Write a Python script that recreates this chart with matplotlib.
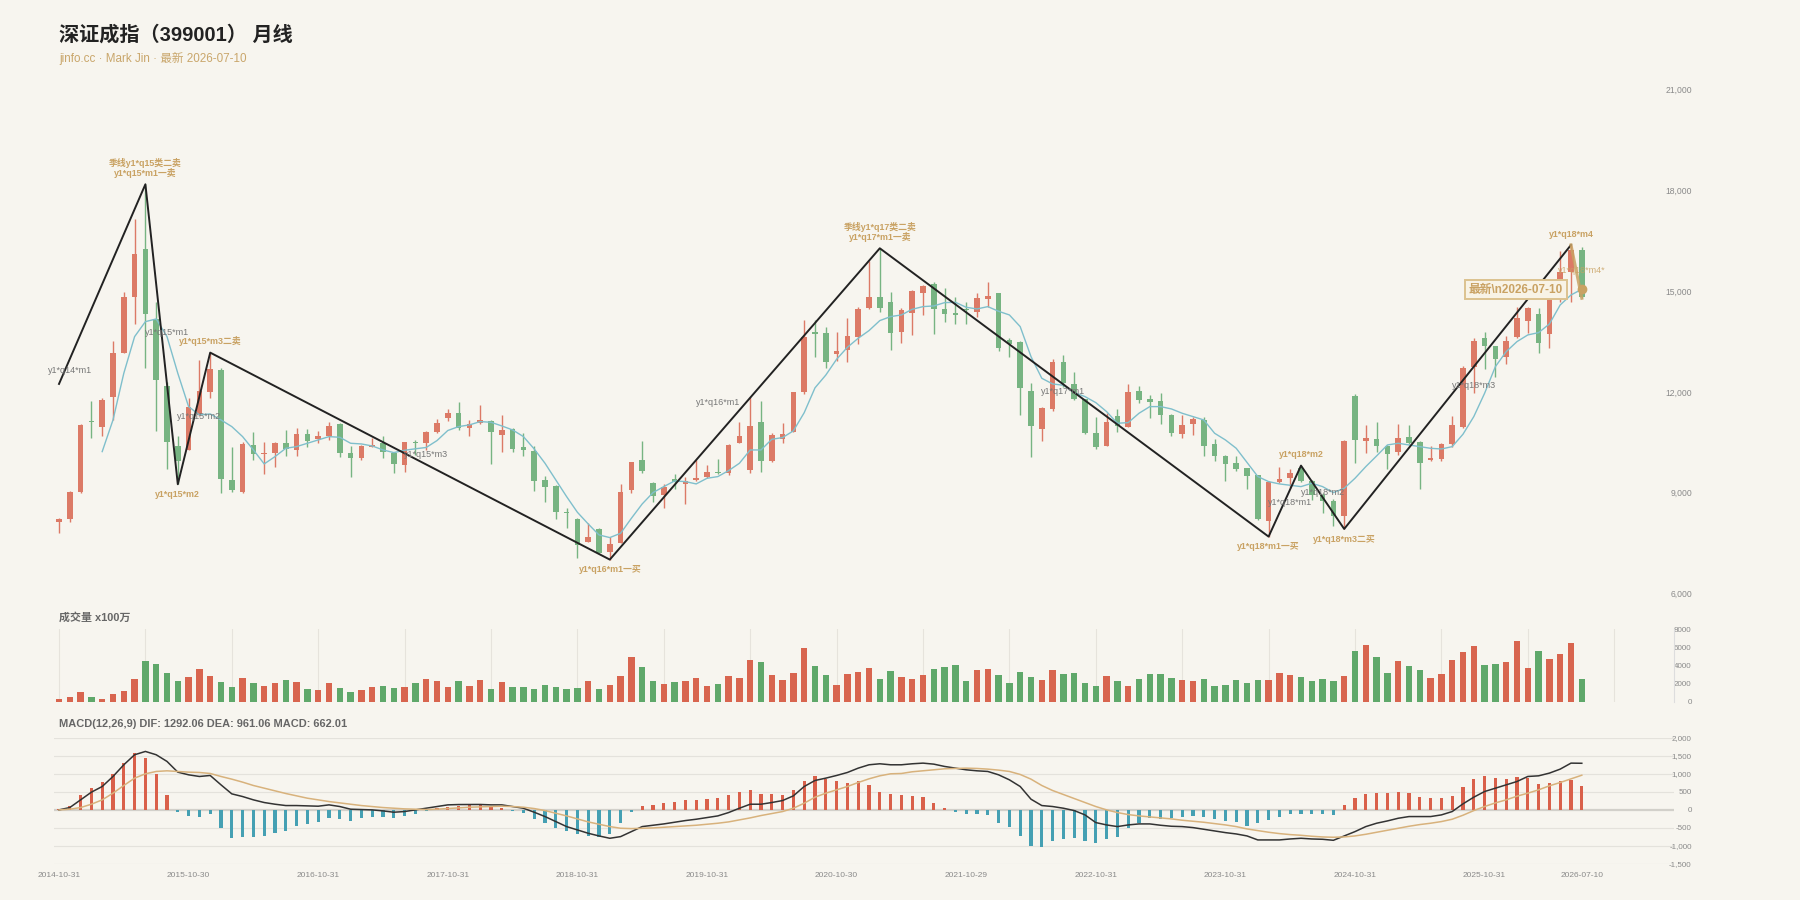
import numpy as np
import matplotlib.pyplot as plt
from matplotlib.ticker import FuncFormatter

plt.rcParams['font.family'] = ['Liberation Sans', 'Noto Sans CJK SC', 'DejaVu Sans']
plt.rcParams['axes.unicode_minus'] = False

# ---------------- data ----------------
tick_idx = [0, 12, 24, 36, 48, 60, 72, 84, 96, 108, 120, 132, 141]
tick_lab = ["2014-10-31", "2015-10-30", "2016-10-31", "2017-10-31", "2018-10-31",
            "2019-10-31", "2020-10-30", "2021-10-29", "2022-10-31", "2023-10-31",
            "2024-10-31", "2025-10-31", "2026-07-10"]

opens = [8120, 8220, 9012, 11135, 10946, 11859, 13168, 14835, 16253, 14170,
         12176, 10390, 10271, 11313, 12007, 12652, 9378, 9031, 10420, 10140,
         10172, 10490, 10271, 10757, 10589, 10698, 11035, 10192, 10043, 10370,
         10490, 10192, 9825, 10519, 10490, 10817, 11214, 11363, 10916, 11065,
         11144, 10718, 10886, 10361, 10252, 9369, 9210, 8436, 8228, 7544,
         7911, 7246, 7514, 9081, 9974, 9299, 8932, 9399, 9260, 9379,
         9458, 9617, 9577, 10490, 9676, 11105, 9944, 10599, 10817, 12008,
         13773, 13743, 13128, 13248, 13624, 14487, 14835, 14666, 13793, 14339,
         14954, 15202, 14458, 14339, 14468, 14388, 14765, 14934, 13545, 13496,
         12037, 10897, 11482, 12880, 12226, 11789, 10787, 10400, 11283, 10966,
         12027, 11779, 11740, 11303, 10738, 11045, 11164, 10440, 10093, 9894,
         9726, 9527, 8168, 9329, 9448, 9746, 9349, 8932, 8754, 8317,
         11880, 10549, 10599, 10391, 10222, 10648, 10520, 9974, 9994, 10440,
         10966, 12752, 13615, 13366, 13029, 13624, 14111, 14329, 13714, 15331,
         15579, 16224]
highs = [8260, 9040, 11040, 11730, 11809, 13515, 14983, 17136, 18178, 14666,
         12300, 10698, 11809, 12950, 13168, 12700, 10371, 10519, 10797, 10499,
         10499, 10866, 10936, 10896, 10837, 11095, 11065, 10390, 10420, 10638,
         10688, 10222, 10519, 10569, 10847, 11184, 11502, 11700, 11164, 11611,
         11164, 11313, 10936, 10767, 10390, 9498, 9230, 8555, 8238, 8109,
         7940, 7673, 9260, 9924, 10539, 9329, 9260, 9557, 9478, 9974,
         9825, 10000, 10440, 11095, 11839, 11730, 10767, 11075, 12008, 14140,
         14140, 13922, 13793, 14190, 14517, 15896, 16273, 14964, 14488, 15033,
         15182, 15281, 15083, 14815, 14666, 14934, 15281, 14954, 13615, 13525,
         12256, 11541, 12980, 13099, 12583, 11800, 11244, 11363, 11482, 12236,
         12186, 11908, 11958, 11333, 11313, 11264, 11264, 10589, 10122, 10093,
         9746, 9540, 9359, 9775, 9706, 9805, 9379, 8982, 8813, 10569,
         11950, 11000, 11115, 10420, 11045, 11015, 10549, 10400, 10470, 11293,
         12781, 13594, 13793, 13376, 13664, 14517, 14537, 14507, 15053, 16194,
         16372, 16303]
lows = [7790, 8140, 9000, 10640, 10698, 11164, 13148, 14021, 12722, 10837,
        9696, 9250, 10271, 11290, 11829, 8982, 9031, 9000, 9974, 9547,
        9775, 10093, 10093, 10370, 10490, 10569, 10073, 9477, 9974, 10350,
        10023, 9577, 9626, 10122, 10271, 10787, 11135, 10867, 10698, 11045,
        9855, 10222, 10222, 10093, 9051, 8724, 8218, 7940, 7067, 7524,
        7196, 7008, 7494, 9002, 9577, 8734, 8555, 9101, 8664, 9359,
        9448, 9557, 9527, 10470, 9577, 9627, 9904, 10490, 10797, 11938,
        13029, 12702, 12930, 12900, 13426, 14468, 14388, 13247, 13446, 13694,
        14289, 13724, 14091, 14021, 14011, 14240, 14537, 13228, 13049, 11313,
        10073, 10549, 11442, 12157, 11760, 10747, 10291, 10390, 10797, 10946,
        11660, 11214, 11035, 10698, 10639, 10718, 10093, 9954, 9359, 9656,
        9101, 8200, 7692, 9279, 9131, 9329, 8783, 8407, 8020, 7920,
        9875, 10192, 10222, 9696, 10123, 10450, 9111, 9944, 9954, 10370,
        10936, 11958, 12672, 12454, 12831, 13595, 13743, 13168, 13297, 14686,
        14686, 14785]
closes = [8220, 9012, 11015, 11100, 11759, 13148, 14815, 16095, 14319, 12355,
          10519, 9954, 11561, 12037, 12672, 9398, 9081, 10450, 10142, 10170,
          10470, 10311, 10747, 10539, 10698, 10995, 10172, 10043, 10390, 10420,
          10222, 9855, 10519, 10490, 10817, 11085, 11363, 10916, 11035, 11164,
          10807, 10867, 10301, 10281, 9359, 9160, 8436, 8387, 7444, 7673,
          7216, 7474, 9032, 9904, 9656, 8912, 9180, 9309, 9359, 9428,
          9627, 9577, 10420, 10688, 10986, 9944, 10728, 10748, 11998, 13644,
          13724, 12880, 13228, 13664, 14468, 14815, 14487, 13763, 14438, 15003,
          15162, 14458, 14319, 14289, 14438, 14785, 14854, 13317, 13426, 12107,
          10996, 11511, 12880, 12256, 11789, 10767, 10371, 11095, 10996, 11988,
          11760, 11710, 11313, 10767, 11016, 11184, 10391, 10093, 9855, 9706,
          9508, 8208, 9329, 9399, 9577, 9349, 8932, 8754, 8317, 10539,
          10569, 10619, 10400, 10143, 10619, 10490, 9894, 10043, 10450, 11016,
          12702, 13525, 13366, 12970, 13525, 14210, 14507, 13466, 15033, 15579,
          16224, 14835]

# moving-average line (starts at bar 4)
ma_start = 4
ma_line = [10222, 11164, 12553, 13644, 14090, 14170, 13644, 12553, 11561, 11313,
           11343, 11164, 10966, 10668, 10272, 9855, 10073, 10321, 10371, 10470,
           10569, 10668, 10648, 10470, 10450, 10390, 10272, 10192, 10262, 10306,
           10345, 10550, 10850, 10966, 11016, 11115, 11095, 10986, 10867, 10669,
           10301, 9875, 9379, 8883, 8416, 8069, 7742, 7663, 7791, 8238,
           8664, 9002, 9180, 9349, 9329, 9260, 9428, 9478, 9656, 9875,
           10271, 10271, 10589, 10640, 10840, 11380, 12120, 12500, 12970, 13327,
           13595, 13823, 14121, 14240, 14289, 14458, 14537, 14557, 14656, 14666,
           14517, 14468, 14537, 14398, 14289, 13942, 13049, 12404, 12236, 12196,
           11978, 11859, 11680, 11412, 11065, 11085, 11363, 11561, 11561, 11492,
           11363, 11264, 11164, 10768, 10569, 10321, 9900, 9480, 9329, 9260,
           9220, 9180, 9280, 9180, 9002, 9130, 9428, 9775, 10093, 10420,
           10470, 10420, 10370, 10320, 10300, 10370, 10740, 11264, 11958, 12752,
           13198, 13496, 13694, 13763, 14021, 14587, 14884, 15053]

volume = [302, 488, 1046, 562, 339, 823, 1194, 2534, 4505, 4208,
          3203, 2310, 2757, 3650, 2868, 2162, 1604, 2645, 2087, 1715,
          2087, 2422, 2199, 1455, 1269, 2124, 1566, 1046, 1269, 1678,
          1715, 1492, 1641, 2124, 2496, 2348, 1641, 2310, 1715, 2422,
          1418, 2162, 1641, 1678, 1418, 1827, 1641, 1380, 1529, 2310,
          1455, 1864, 2831, 4914, 3836, 2310, 1938, 2162, 2348, 2608,
          1752, 2013, 2831, 2608, 4617, 4393, 2980, 2422, 3203, 5919,
          3910, 2980, 1864, 3054, 3310, 3761, 2534, 3426, 2720, 2571,
          2906, 3650, 3873, 4059, 2310, 3464, 3612, 2943, 2124, 3278,
          2720, 2459, 3464, 3054, 3129, 2124, 1752, 2868, 2273, 1790,
          2534, 3054, 3054, 2645, 2422, 2310, 2534, 1752, 1864, 2422,
          2124, 2385, 2459, 3203, 2980, 2720, 2310, 2571, 2310, 2868,
          5658, 6328, 4951, 3203, 4542, 3947, 3464, 2645, 3054, 4617,
          5510, 6179, 4022, 4134, 4393, 6700, 3724, 5621, 4766, 5324,
          6514, 2534]

macd_hist = [20, 120, 417, 620, 769, 1000, 1296, 1574, 1435, 1000,
             417, -46, -167, -185, -120, -509, -787, -759, -759, -722,
             -630, -574, -444, -380, -324, -213, -259, -296, -213, -195,
             -195, -231, -157, -102, -19, 46, 93, 120, 139, 157,
             120, 56, -28, -93, -241, -352, -491, -574, -676, -722,
             -741, -667, -370, -65, 111, 148, 185, 222, 269, 287,
             315, 324, 417, 500, 556, 444, 435, 417, 556, 806,
             944, 861, 787, 759, 787, 694, 500, 450, 417, 389,
             352, 204, 65, -46, -120, -120, -148, -370, -482, -722,
             -1000, -1037, -861, -806, -787, -861, -926, -815, -741, -500,
             -370, -231, -259, -231, -185, -167, -204, -259, -305, -333,
             -445, -370, -278, -185, -120, -120, -120, -120, -148, 130,
             324, 444, 481, 463, 491, 472, 370, 324, 324, 389,
             630, 852, 935, 880, 861, 898, 880, 713, 750, 787,
             833, 667]
dif = [0, 65, 278, 491, 648, 926, 1250, 1528, 1620, 1528,
       1343, 1046, 972, 926, 954, 694, 444, 370, 278, 204,
       157, 120, 120, 111, 102, 139, 93, 19, 9, 0,
       -28, -65, -46, 0, 46, 93, 139, 148, 150, 150,
       139, 139, 93, 46, -65, -185, -324, -463, -556, -648,
       -722, -787, -741, -602, -463, -426, -389, -343, -296, -259,
       -213, -167, -74, 46, 157, 157, 204, 259, 389, 648,
       815, 880, 954, 1037, 1157, 1250, 1278, 1250, 1250, 1278,
       1296, 1268, 1204, 1157, 1111, 1083, 1065, 972, 833, 648,
       296, 120, 93, 46, -19, -139, -352, -417, -463, -417,
       -389, -389, -426, -454, -463, -491, -537, -583, -630, -667,
       -722, -833, -833, -833, -806, -787, -806, -815, -843, -722,
       -602, -463, -370, -306, -232, -185, -185, -185, -139, -46,
       167, 352, 509, 602, 694, 787, 926, 944, 1019, 1130,
       1296, 1292]
dea = [0, 19, 65, 157, 278, 463, 676, 880, 1000, 1065,
       1083, 1065, 1046, 1037, 1009, 926, 852, 769, 676, 602,
       528, 454, 389, 324, 278, 231, 194, 157, 120, 93,
       65, 46, 28, 19, 9, 19, 37, 56, 74, 83,
       93, 102, 93, 74, 37, -19, -93, -167, -250, -333,
       -398, -463, -509, -519, -509, -500, -482, -463, -444, -426,
       -398, -370, -333, -278, -222, -157, -102, -46, 46, 185,
       352, 463, 556, 648, 759, 861, 944, 1000, 1009, 1056,
       1083, 1111, 1139, 1148, 1157, 1148, 1130, 1102, 1065, 982,
       852, 676, 537, 426, 315, 204, 93, 0, -74, -130,
       -167, -195, -222, -250, -287, -315, -343, -380, -417, -463,
       -528, -574, -620, -657, -685, -704, -731, -750, -759, -750,
       -722, -676, -620, -565, -509, -454, -407, -370, -324, -259,
       -148, -19, 93, 194, 278, 380, 463, 556, 667, 759,
       861, 961]

# stroke (black zig-zag) pivots
pivot_idx = [0, 8, 11, 14, 51, 76, 112, 115, 119, 140]
pivot_val = [12236, 18178, 9250, 13168, 7008, 16273, 7692, 9805, 7920, 16372]

gold_above = [("季线y1*q15类二卖\ny1*q15*m1一卖", 8, 18178),
              ("y1*q15*m3二卖", 14, 13168),
              ("季线y1*q17类二卖\ny1*q17*m1一卖", 76, 16273),
              ("y1*q18*m2", 115, 9805),
              ("y1*q18*m4", 140, 16372)]
gold_below = [("y1*q15*m2", 11, 9250),
              ("y1*q16*m1一买", 51, 7008),
              ("y1*q18*m1一买", 112, 7692),
              ("y1*q18*m3二买", 119, 7920)]
gray_labels = [("y1*q14*m1", 1, 12623), ("y1*q15*m1", 10, 13753),
               ("y1*q15*m2", 13, 11254), ("y1*q15*m3", 34, 10123),
               ("y1*q16*m1", 61, 11670), ("y1*q17*m1", 93, 11998),
               ("y1*q18*m1", 114, 8694), ("y1*q18*m2", 117, 8992),
               ("y1*q18*m3", 131, 12177)]

# ---------------- style ----------------
BG = '#f7f5ef'
C_UP = '#dc7a66'
C_DN = '#77b482'
V_UP = '#d8654f'
V_DN = '#5fa86a'
M_UP = '#d9604a'
M_DN = '#45a0b3'
GOLD = '#c9a263'
TICK = '#8a8a8a'

fig = plt.figure(figsize=(18, 9), dpi=100, facecolor=BG)
L, W = 53.6 / 1800, 1620 / 1800
ax = fig.add_axes([L, 0.3406, W, 0.56])
axv = fig.add_axes([L, 0.2203, W, 0.0803])
axm = fig.add_axes([L, 0.04, W, 0.1403])

x = np.arange(len(closes))
o = np.array(opens); c = np.array(closes)
h = np.array(highs); l = np.array(lows)
up = c >= o

for a in (ax, axv, axm):
    a.set_facecolor(BG)
    a.set_xlim(-0.5, 149.5)
    for s in a.spines.values():
        s.set_visible(False)
    a.yaxis.tick_right()

# ---- price panel ----
ax.vlines(x, l, h, colors=np.where(up, C_UP, C_DN), lw=1.0, zorder=2)
ax.bar(x, np.maximum(np.abs(c - o), 30), bottom=np.minimum(o, c), width=0.52,
       color=np.where(up, C_UP, C_DN), zorder=3)
ax.plot(np.arange(ma_start, ma_start + len(ma_line)), ma_line, color='#7fbfcc', lw=1.0, zorder=4)
ax.plot(pivot_idx, pivot_val, color='#222222', lw=1.4, zorder=5)
ax.plot([140, 141], [16372, 14785], color=GOLD, lw=2.2, alpha=0.85, zorder=5)
ax.plot(141, ma_line[-1], 'o', color=GOLD, ms=6, zorder=6)

for t, i, v in gold_above:
    ax.annotate(t, (i, v), xytext=(0, 4.5), textcoords='offset points', ha='center', va='bottom',
                fontsize=6.4, fontweight='bold', color=GOLD, linespacing=1.0, zorder=7)
for t, i, v in gold_below:
    ax.annotate(t, (i, v), xytext=(0, -4), textcoords='offset points', ha='center', va='top',
                fontsize=6.4, fontweight='bold', color=GOLD, zorder=7)
for t, i, v in gray_labels:
    ax.text(i, v, t, ha='center', va='center', fontsize=6.5, color='#777777', zorder=7)
ax.text(141, 15598, "y1*q18*m4*", ha='center', va='center', fontsize=6.5, color=GOLD, alpha=0.85, zorder=7)
ax.text(134.9, 15033, "最新\\n2026-07-10", ha='center', va='center', fontsize=8.5, fontweight='bold',
        color=GOLD, zorder=8,
        bbox=dict(boxstyle='square,pad=0.3', facecolor='#f8f3e6', edgecolor='#dcc28f', lw=1.4))

ax.set_ylim(6000, 21000)
ax.set_yticks(range(6000, 21001, 3000))
ax.yaxis.set_major_formatter(FuncFormatter(lambda v, p: f"{int(v):,}"))
ax.set_xticks([])
ax.tick_params(axis='y', length=0, pad=13.5, labelsize=6.2, labelcolor=TICK)

# ---- volume panel ----
for k in range(0, 150, 8):
    axv.axvline(k, color='#e6e3dc', lw=0.8, zorder=0)
axv.bar(x, volume, width=0.6, color=np.where(up, V_UP, V_DN), zorder=2)
axv.set_ylim(0, 8000)
axv.set_yticks([0, 2000, 4000, 6000, 8000])
axv.set_xticks([])
axv.spines['right'].set_visible(True)
axv.spines['right'].set_color('#dddddd')
axv.tick_params(axis='y', length=0, pad=13, labelsize=5.8, labelcolor=TICK)

# ---- MACD panel ----
for g in range(-1500, 2001, 500):
    if g != 0:
        axm.axhline(g, color='#e4e2dc', lw=0.8, zorder=0)
axm.axhline(0, color='#d2d0ca', lw=1.6, zorder=1)
hist = np.array(macd_hist)
axm.bar(x, hist, width=0.28, color=np.where(hist >= 0, M_UP, M_DN), zorder=2)
axm.plot(x, dif, color='#333333', lw=1.1, zorder=3)
axm.plot(x, dea, color='#d8b27c', lw=1.1, zorder=3)
axm.set_ylim(-1500, 2000)
axm.set_yticks(range(-1500, 2001, 500))
axm.yaxis.set_major_formatter(FuncFormatter(lambda v, p: f"{int(v):,}"))
axm.set_xticks(tick_idx)
axm.set_xticklabels(tick_lab)
axm.tick_params(axis='y', length=0, pad=13, labelsize=5.8, labelcolor=TICK)
axm.tick_params(axis='x', length=0, pad=6, labelsize=6.0, labelcolor=TICK)

for a in (ax, axv, axm):
    for tk in a.yaxis.get_major_ticks():
        tk.label2.set_horizontalalignment('right')

# ---- texts ----
fig.text(59 / 1800, 1 - 35 / 900, "深证成指（399001） 月线", fontsize=14.5, fontweight='bold',
         color='#222222', va='center', ha='left')
fig.text(59 / 1800, 1 - 58 / 900, "jinfo.cc · Mark Jin · 最新 2026-07-10", fontsize=8.4,
         color='#c9a66b', va='center', ha='left')
fig.text(59 / 1800, 1 - 617 / 900, "成交量 x100万", fontsize=7.9, fontweight='bold',
         color='#666666', va='center', ha='left')
fig.text(59 / 1800, 1 - 724 / 900, "MACD(12,26,9) DIF: 1292.06 DEA: 961.06 MACD: 662.01",
         fontsize=7.9, fontweight='bold', color='#666666', va='center', ha='left')

fig.savefig("out.png", dpi=100, facecolor=BG)
